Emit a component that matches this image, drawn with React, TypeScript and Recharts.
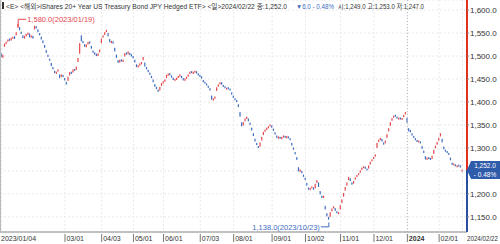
import React from 'react'
import { ComposedChart, Bar, XAxis, YAxis, CartesianGrid, ReferenceLine, ReferenceDot } from 'recharts'

// daily candles 2023/01/04 .. 2024/02/22 (index = trading day)
const opens = [
  1506, 1496, 1520, 1526, 1531, 1538, 1534, 1538, 1543, 1545,
  1562, 1563, 1553, 1545, 1538, 1543, 1546, 1549, 1540, 1544,
  1558, 1565, 1558, 1550, 1542, 1534, 1524, 1513, 1503, 1494,
  1485, 1476, 1468, 1461, 1466, 1460, 1455, 1459, 1452, 1444,
  1446, 1458, 1466, 1464, 1472, 1470, 1487, 1505, 1545, 1533,
  1526, 1519, 1525, 1532, 1522, 1512, 1508, 1505, 1500, 1508,
  1528, 1540, 1546, 1552, 1550, 1537, 1528, 1532, 1518, 1503,
  1491, 1486, 1493, 1487, 1499, 1508, 1504, 1507, 1504, 1500,
  1492, 1482, 1475, 1479, 1482, 1491, 1486, 1476, 1470, 1464,
  1457, 1449, 1439, 1433, 1427, 1425, 1435, 1440, 1444, 1452,
  1457, 1463, 1458, 1453, 1446, 1448, 1452, 1455, 1457, 1452,
  1446, 1450, 1455, 1461, 1467, 1461, 1464, 1467, 1462, 1459,
  1456, 1448, 1444, 1440, 1435, 1430, 1414, 1403, 1407, 1424,
  1433, 1438, 1443, 1437, 1434, 1427, 1432, 1429, 1421, 1414,
  1408, 1404, 1395, 1378, 1356, 1349, 1358, 1363, 1364, 1355,
  1344, 1332, 1320, 1311, 1304, 1303, 1316, 1328, 1335, 1339,
  1343, 1347, 1349, 1342, 1334, 1327, 1320, 1324, 1319, 1323,
  1326, 1321, 1325, 1321, 1311, 1301, 1291, 1280, 1258, 1248,
  1250, 1242, 1235, 1224, 1214, 1208, 1212, 1214, 1212, 1224,
  1225, 1206, 1196, 1191, 1174, 1158, 1150, 1150, 1162, 1168,
  1169, 1162, 1156, 1166, 1180, 1194, 1207, 1218, 1230, 1234,
  1225, 1222, 1231, 1237, 1241, 1246, 1252, 1256, 1259, 1255,
  1255, 1264, 1271, 1276, 1281, 1300, 1313, 1317, 1320, 1312,
  1310, 1322, 1336, 1348, 1359, 1366, 1372, 1368, 1362, 1366,
  1361, 1367, 1373, 1365, 1343, 1339, 1332, 1326, 1321, 1317,
  1312, 1314, 1304, 1294, 1282, 1274, 1280, 1278, 1276, 1287,
  1299, 1307, 1316, 1325, 1320, 1303, 1296, 1293, 1289, 1279,
  1268, 1262, 1264, 1258, 1262, 1261, 1249,
]
const closes = [
  1498, 1503, 1527, 1531, 1536, 1533, 1540, 1542, 1537, 1552,
  1570, 1556, 1548, 1539, 1544, 1548, 1551, 1541, 1545, 1538,
  1566, 1560, 1552, 1545, 1536, 1528, 1518, 1507, 1498, 1490,
  1478, 1471, 1463, 1466, 1471, 1452, 1460, 1454, 1447, 1438,
  1455, 1465, 1461, 1471, 1468, 1477, 1496, 1528, 1532, 1528,
  1520, 1525, 1531, 1527, 1516, 1507, 1503, 1500, 1506, 1514,
  1538, 1545, 1552, 1557, 1543, 1530, 1533, 1527, 1510, 1496,
  1485, 1492, 1488, 1492, 1506, 1503, 1510, 1502, 1499, 1495,
  1486, 1476, 1480, 1484, 1487, 1498, 1477, 1471, 1465, 1459,
  1452, 1443, 1433, 1428, 1422, 1433, 1441, 1445, 1449, 1459,
  1462, 1458, 1453, 1448, 1450, 1453, 1457, 1460, 1452, 1447,
  1451, 1455, 1460, 1466, 1463, 1466, 1468, 1462, 1458, 1455,
  1451, 1443, 1440, 1436, 1431, 1425, 1405, 1408, 1412, 1432,
  1438, 1443, 1438, 1433, 1430, 1431, 1428, 1425, 1416, 1409,
  1404, 1400, 1389, 1368, 1347, 1356, 1364, 1368, 1358, 1350,
  1338, 1326, 1314, 1306, 1300, 1312, 1324, 1335, 1340, 1344,
  1347, 1351, 1344, 1337, 1329, 1322, 1325, 1320, 1324, 1327,
  1322, 1326, 1321, 1317, 1305, 1296, 1286, 1274, 1249, 1253,
  1245, 1237, 1230, 1218, 1209, 1213, 1216, 1209, 1222, 1230,
  1215, 1199, 1191, 1196, 1166, 1151, 1144, 1160, 1168, 1173,
  1163, 1158, 1160, 1175, 1188, 1202, 1215, 1225, 1237, 1228,
  1220, 1228, 1236, 1241, 1245, 1251, 1257, 1260, 1255, 1251,
  1262, 1270, 1275, 1280, 1286, 1311, 1318, 1322, 1314, 1307,
  1316, 1330, 1343, 1356, 1365, 1370, 1368, 1364, 1366, 1362,
  1365, 1372, 1378, 1355, 1336, 1334, 1327, 1322, 1317, 1313,
  1316, 1310, 1298, 1289, 1275, 1279, 1276, 1274, 1283, 1296,
  1305, 1313, 1322, 1332, 1312, 1297, 1292, 1289, 1285, 1273,
  1263, 1266, 1260, 1262, 1261, 1258, 1252,
]

const tickIndex = [0, 38, 60, 79, 97, 119, 139, 162, 182, 203, 223, 243, 262, 276]
const tickLabels = ['2023/01/04', '03/01', '04/03', '05/01', '06/01', '07/03', '08/01', '09/01', '10/02', '11/01', '12/01', '2024', '02/01', '2024/02/22']
const yTicks = [1150, 1200, 1250, 1300, 1350, 1400, 1450, 1500, 1550, 1600]

const periodHigh = { index: 10, value: 1580, date: '2023/01/19' }
const periodLow = { index: 196, value: 1138, date: '2023/10/23' }
const lastClose = 1252
const lastChange = '- 0.48%'

const titleMain = '<E> <해외>iShares 20+ Year US Treasury Bond JPY Hedged ETF> <일>2024/02/22 종:1,252.0'
const titleChange = '▼6.0 - 0.48%'
const titleRest = '시:1,249.0 고:1,253.0 저:1,247.0'

const RED = '#e5484d'
const BLUE = '#3d6cc0'
const FONT = "'Liberation Sans', Arial, 'Noto Sans CJK KR', sans-serif"
const X_MIN = -0.9
const X_MAX = 278.7

const rows = closes.map((c, i) => ({
  i,
  body: [Math.min(opens[i], c), Math.max(opens[i], c)],
  up: c >= opens[i],
}))

const fmt = (v: number) => v.toLocaleString('en-US', { minimumFractionDigits: 1, maximumFractionDigits: 1 })

const Candle = (props: any) => {
  const { x, y, width, height, payload } = props
  if (x == null || y == null) return null
  const cx = x + width / 2
  const h = Math.abs(height)
  const top = height < 0 ? y + height : y
  const hh = Math.max(h, 2)
  return <rect x={cx - 0.6} y={top - (hh - h) / 2} width={1.2} height={hh} fill={payload.up ? RED : BLUE} />
}

const XTick = ({ x, y, payload }: any) => {
  const k = tickIndex.indexOf(payload.value)
  const label = tickLabels[k]
  const first = k === 0
  const last = k === tickIndex.length - 1
  if (last) {
    return (
      <text x={467} y={y + 9} fontSize={6.5} fill="#333" fontFamily={FONT} textLength={31} lengthAdjust="spacingAndGlyphs">
        {label}
      </text>
    )
  }
  const tx = first ? x - 0.5 : x + 1.5
  return (
    <g>
      {!first && <line x1={x} x2={x} y1={y + 2} y2={y + 10} stroke="#555" strokeWidth={0.8} />}
      <text x={tx} y={y + 9} fontSize={7} fill="#333" fontFamily={FONT} fontWeight={label === '2024' ? 'bold' : 'normal'}>
        {label}
      </text>
    </g>
  )
}

// the price box covers the tick label nearest to the last close
const YTick = ({ x, y, payload }: any) => {
  if (Math.abs(payload.value - lastClose) < 25) return null
  return (
    <g>
      <line x1={x - 3} x2={x - 1} y1={y} y2={y} stroke="#888" />
      <text x={x} y={y + 3} fontSize={8} fill="#333" fontFamily={FONT}>{fmt(payload.value)}</text>
    </g>
  )
}

const HighMark = ({ cx, cy }: any) => (
  <g>
    <path d={`M${cx},${cy + 8} V${cy} H${cx + 8}`} stroke={RED} strokeWidth={1} fill="none" />
    <text x={cx + 9} y={cy + 3} fontSize={7.5} fill={RED} fontFamily={FONT}>
      {fmt(periodHigh.value)}({periodHigh.date})
    </text>
  </g>
)

const LowMark = ({ cx, cy }: any) => (
  <g>
    <path d={`M${cx},${cy} V${cy + 4.5} H${cx - 8}`} stroke={BLUE} strokeWidth={1} fill="none" />
    <text x={cx - 9} y={cy + 7.5} fontSize={7.5} fill={BLUE} textAnchor="end" fontFamily={FONT}>
      {fmt(periodLow.value)}({periodLow.date})
    </text>
  </g>
)

const PriceBox = ({ cx, cy }: any) => (
  <g>
    <path d={`M${cx},${cy} L${cx + 4},${cy - 9} H${cx + 33} V${cy + 9} H${cx + 4} Z`} fill="#2f5bab" />
    <text x={cx + 18} y={cy - 1.5} fontSize={6.5} fill="#fff" textAnchor="middle" fontFamily={FONT}>{fmt(lastClose)}</text>
    <text x={cx + 18} y={cy + 7} fontSize={6.5} fill="#fff" textAnchor="middle" fontFamily={FONT}>{lastChange}</text>
  </g>
)

export default function App() {
  return (
    <div style={{ position: 'absolute', left: 0, top: 0, width: 500, height: 244, background: '#fff', overflow: 'hidden' }}>
      <ComposedChart width={500} height={244} data={rows} margin={{ top: 0, right: 0, bottom: 0, left: 0 }}>
        <CartesianGrid stroke="#e9e9e9" strokeDasharray="2 2" />
        <XAxis
          dataKey="i"
          type="number"
          domain={[X_MIN, X_MAX]}
          allowDataOverflow
          ticks={tickIndex}
          interval={0}
          height={12}
          tickSize={0}
          tickMargin={0}
          tickLine={false}
          axisLine={{ stroke: '#888' }}
          tick={<XTick />}
        />
        <YAxis
          orientation="right"
          domain={[1117, 1622]}
          allowDataOverflow
          ticks={yTicks}
          interval={0}
          width={33}
          tickSize={2}
          tickMargin={1}
          axisLine={false}
          tickLine={false}
          tick={<YTick />}
        />
        <ReferenceLine x={tickIndex[11]} stroke="#bbb" strokeDasharray="1 2" />
        <Bar dataKey="body" barSize={1} shape={<Candle />} isAnimationActive={false} />
        <ReferenceLine
          segment={[{ x: X_MAX, y: 1622 }, { x: X_MAX, y: lastClose }]}
          stroke="#e0301e"
          strokeWidth={2}
          ifOverflow="visible"
        />
        <ReferenceLine
          segment={[{ x: X_MAX, y: lastClose }, { x: X_MAX, y: 1117 }]}
          stroke="#2a4fa0"
          strokeWidth={2}
          ifOverflow="visible"
        />
        <ReferenceDot x={periodHigh.index} y={periodHigh.value} r={0} shape={<HighMark />} ifOverflow="visible" />
        <ReferenceDot x={periodLow.index} y={periodLow.value} r={0} shape={<LowMark />} ifOverflow="visible" />
        <ReferenceDot x={X_MAX} y={lastClose} r={0} shape={<PriceBox />} ifOverflow="visible" />
      </ComposedChart>
      <svg width={500} height={12} style={{ position: 'absolute', left: 0, top: 0 }}>
        <rect x={2} y={2} width={2} height={7} fill="#333" />
        <text x={6} y={8.5} fontSize={6.3} fill="#333" fontFamily={FONT} textLength={281} lengthAdjust="spacingAndGlyphs">
          {titleMain}
        </text>
        <text x={296} y={8.5} fontSize={6.5} fill={BLUE} fontFamily={FONT} textLength={38} lengthAdjust="spacingAndGlyphs">
          {titleChange}
        </text>
        <text x={338} y={8.5} fontSize={6.5} fill="#333" fontFamily={FONT} textLength={86} lengthAdjust="spacingAndGlyphs">
          {titleRest}
        </text>
      </svg>
      <div style={{ position: 'absolute', left: 0, top: 0, width: 1, height: 232, background: '#bbb' }} />
    </div>
  )
}
